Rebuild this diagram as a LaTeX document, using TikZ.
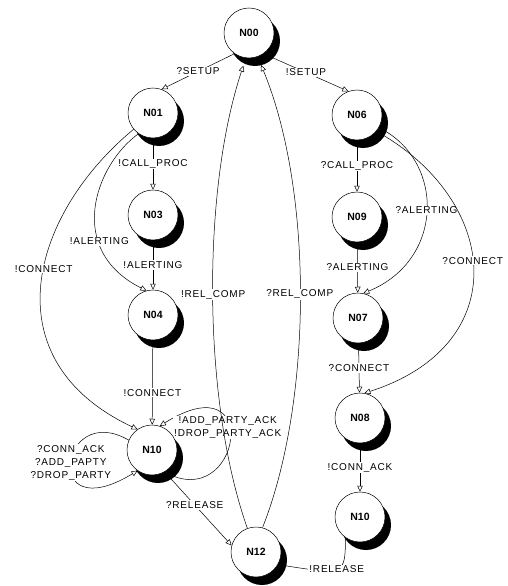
\documentclass[tikz,border=0pt]{standalone}
\usepackage{fontspec}
\setmainfont{Liberation Sans}
\newfontfamily\lblfont[LetterSpace=8]{Liberation Sans}
\usetikzlibrary{arrows.meta,shadows,backgrounds}
\begin{document}
\begin{tikzpicture}[x=1pt, y=1pt,
    stnode/.style={draw, circle, fill=white, minimum size=50pt, inner sep=0pt, line width=0.5pt,
        font=\bfseries\fontsize{10.5}{12}\selectfont,
        drop shadow={shadow xshift=6pt, shadow yshift=-8pt, fill=black, opacity=1}},
    tr/.style={line width=0.5pt, -{Triangle[fill=white, length=6pt, width=5.5pt, line width=0.5pt]}},
    lb/.style={fill=white, inner sep=1pt, align=center, font=\lblfont\fontsize{10}{13}\selectfont}]
\useasboundingbox (0,0) rectangle (507,-586);

\node[stnode] (N00) at (249,-33) {N00};
\node[stnode] (N01) at (153,-113) {N01};
\node[stnode] (N06) at (357,-115) {N06};
\node[stnode] (N03) at (153,-215) {N03};
\node[stnode] (N09) at (357,-217) {N09};
\node[stnode] (N04) at (153,-315) {N04};
\node[stnode] (N07) at (358,-318) {N07};
\node[stnode] (N10a) at (152,-450) {N10};
\node[stnode] (N08) at (360,-418) {N08};
\node[stnode] (N10b) at (360,-517) {N10};
\node[stnode] (N12) at (256,-552) {N12};

\begin{pgfonlayer}{background}
\draw[tr] (N00.235) -- node[lb] {?SETUP} (N01.70);
\draw[tr] (N00.305) -- node[lb] {!SETUP} (N06.110);
\draw[tr] (N01) -- node[lb] {!CALL\_PROC} (N03);
\draw[tr] (N03) -- node[lb] {!ALERTING} (N04);
\draw[tr] (N01.235) .. controls (95,-165) and (65,-250) .. node[lb, pos=0.68] {!ALERTING} (N04.105);
\draw[tr] (N01.220) .. controls (30,-215) and (-10,-360) .. node[lb, pos=0.45] {!CONNECT} (N10a.125);
\draw[tr] (N04) -- node[lb, pos=0.62] {!CONNECT} (N10a);
\draw[tr] (N10a.157) .. controls (60,-400) and (40,-530) .. node[lb] {?CONN\_ACK\\?ADD\_PAPTY\\?DROP\_PARTY} (N10a.235);
\draw[tr] (N10a.300) .. controls (240,-515) and (265,-360) .. node[lb, pos=0.62, yshift=-4pt] {!ADD\_PARTY\_ACK\\!DROP\_PARTY\_ACK} (N10a.72);
\draw[tr] (N10a.300) -- node[lb, pos=0.45] {?RELEASE} (N12.165);
\draw[tr, shorten >=8pt] (N12.110) .. controls (202,-400) and (202,-190) .. node[lb] {!REL\_COMP} (N00.263);
\draw[tr, shorten >=9pt] (N12.75) .. controls (313,-400) and (313,-190) .. node[lb] {?REL\_COMP} (N00.290);
\draw[tr] (N06) -- node[lb] {?CALL\_PROC} (N09);
\draw[tr] (N09) -- node[lb] {?ALERTING} (N07);
\draw[tr] (N06.330) .. controls (445,-160) and (445,-260) .. node[lb] {?ALERTING} (N07.78);
\draw[tr] (N06.320) .. controls (500,-200) and (515,-345) .. node[lb, pos=0.47] {?CONNECT} (N08.80);
\draw[tr] (N07) -- node[lb] {?CONNECT} (N08);
\draw[tr] (N08) -- node[lb] {!CONN\_ACK} (N10b);
\draw[tr] (N10b.235) .. controls (345,-575) .. node[lb] {!RELEASE} (N12.330);
\end{pgfonlayer}
\end{tikzpicture}
\end{document}
